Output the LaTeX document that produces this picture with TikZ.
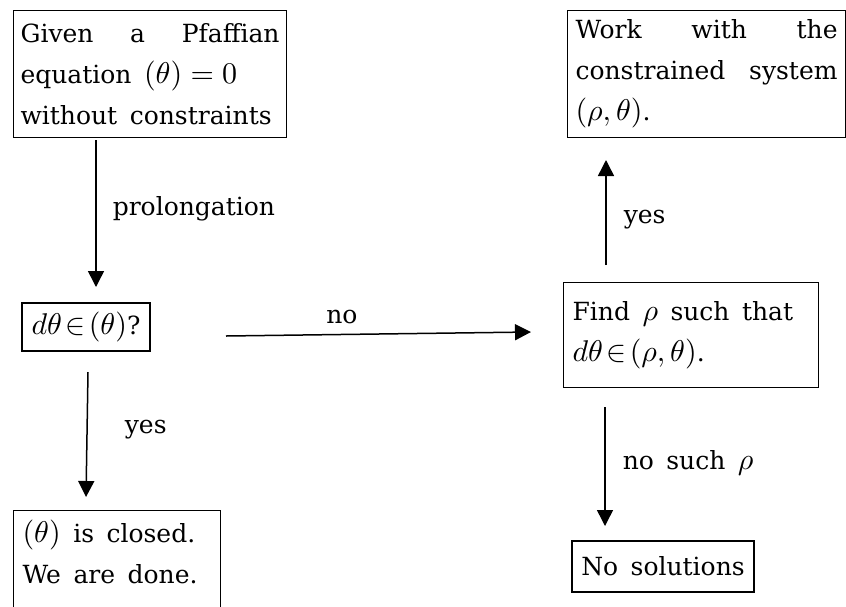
\documentclass[tikz,border=0pt]{standalone}
\usepackage{fontspec}
\setmainfont{DejaVu Serif}
\usetikzlibrary{arrows.meta}
% scalable Computer Modern math at any size
\DeclareFontShape{OML}{cmm}{m}{it}{<->cmmi10}{}
\DeclareFontShape{OMS}{cmsy}{m}{n}{<->cmsy10}{}
\DeclareFontShape{OT1}{cmr}{m}{n}{<->cmr10}{}
\DeclareMathSizes{25}{30}{21}{15}
\newcommand\widesp{\spaceskip=0.5em plus 0.3em minus 0.1em\relax}
\newcommand\flowfont{\fontsize{25}{41}\selectfont\widesp}
\begin{document}
\begin{tikzpicture}[x=1pt,y=-1pt,
  txt/.style={font={\flowfont}, execute at begin node={\widesp}},
  box/.style={txt, draw, line width=1.1pt, align=left, inner ysep=0pt},
  lbl/.style={txt, inner sep=0pt},
  arr/.style={line width=1.5pt, -{Triangle[length=16pt,width=16pt]}}]
\useasboundingbox (0,0) rectangle (846,606);

% boxes
\node[box, anchor=north west, text width=259pt, inner xsep=7pt, minimum height=127pt]
  (given) at (13,10)
  {Given\hfill a\hfill Pfaffian\\equation $(\theta)=0$\\without constraints};
\node[box, anchor=north west, text width=262pt, inner xsep=8pt, minimum height=127pt]
  (work) at (567,10)
  {Work\hfill with\hfill the\\constrained\hfill system\\$(\rho,\theta)$.};
\node[box, align=center, minimum width=128pt, minimum height=48pt, inner xsep=0pt]
  (test) at (86,327) {$d\theta\!\in\!(\theta)$?};
\node[box, anchor=north west, text width=237pt, inner xsep=9pt, minimum height=105pt]
  (find) at (563,282)
  {Find $\rho$ such that\\$d\theta\!\in\!(\rho,\theta)$.};
\node[box, anchor=north west, text width=189pt, inner xsep=9pt]
  (closed) at (13,510)
  {\rule{0pt}{32pt}$(\theta)$ is closed.\\We are done.\rule[-60pt]{0pt}{60pt}};
\node[box, align=center, minimum width=182pt, minimum height=51pt, inner xsep=0pt]
  (nosol) at (663,566.5) {No solutions};

% arrow end points
\coordinate (p1) at (96,140);   \coordinate (p2) at (96,287);
\coordinate (y1) at (88,372);   \coordinate (y2) at (86,497);
\coordinate (n1) at (226,336);  \coordinate (n2) at (531,332);
\coordinate (u1) at (606,265);  \coordinate (u2) at (606,160);
\coordinate (s1) at (605,407);  \coordinate (s2) at (605,526);

% connectors
\draw[arr] (p1) -- (p2) node[lbl, pos=0.47, anchor=west, xshift=16pt] (lp) {prolongation};
\draw[arr] (y1) -- (y2) node[lbl, pos=0.46, anchor=west, xshift=37pt] (ly) {yes};
\draw[arr] (n1) -- (n2) node[lbl, pos=0.38, anchor=south, yshift=10pt] (ln) {no};
\draw[arr] (u1) -- (u2) node[lbl, pos=0.43, anchor=west, xshift=17pt] (lu) {yes};
\draw[arr] (s1) -- (s2) node[lbl, pos=0.47, anchor=west, xshift=17pt] (ls) {no such $\rho$};
\end{tikzpicture}
\end{document}
